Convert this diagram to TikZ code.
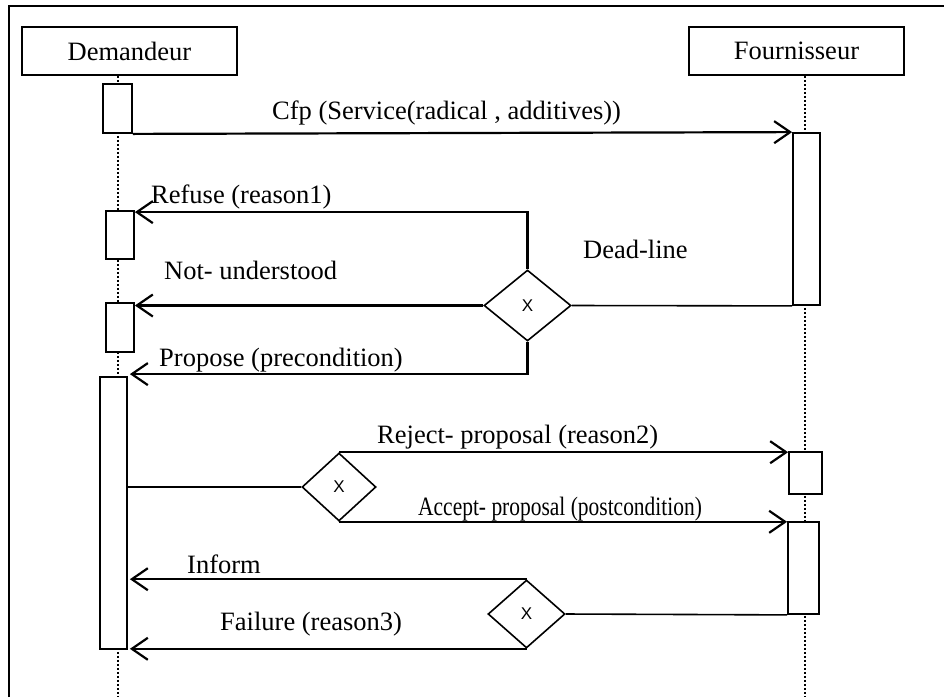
\documentclass[tikz,border=0pt]{standalone}
\usepackage{fontspec}
\setmainfont{Liberation Serif}
\newfontfamily\gatefont{Liberation Sans}
\usetikzlibrary{shapes.geometric,arrows.meta}

\begin{document}
\begin{tikzpicture}[x=1pt,y=-1pt,
  font=\fontsize{26.5}{30}\selectfont,
  actor/.style={draw,line width=1.8pt,fill=white,minimum width=215pt,minimum height=48pt,inner sep=0pt},
  act/.style={draw,line width=1.8pt,fill=white,inner sep=0pt,minimum width=28pt},
  gate/.style={draw,diamond,line width=1.6pt,fill=white,inner sep=0pt,
    font=\gatefont\fontsize{17}{17}\selectfont},
  lifeline/.style={line width=1.6pt,dash pattern=on 2pt off 2pt},
  msg/.style={line width=2.2pt,-{Straight Barb[length=16pt,width=22pt,line width=2.2pt]}},
  link/.style={line width=1.6pt},
  lbl/.style={anchor=base west,inner sep=0pt}]

  \useasboundingbox (0,0) rectangle (944,697);

  % frame (only the top and left edges fall inside the page)
  \draw[line width=2.2pt] (9,697) -- (9,6) -- (944,6);

  % actors and their lifelines
  \node[actor] (dem) at (129.5,51) {Demandeur};
  \node[actor] (fou) at (796.5,51) {Fournisseur};
  \coordinate (demEnd) at (118,697);
  \coordinate (fouEnd) at (805,697);
  \draw[lifeline] (dem.south -| demEnd) -- (demEnd);
  \draw[lifeline] (fou.south -| fouEnd) -- (fouEnd);

  % activation boxes, Demandeur side
  \node[act,minimum width=29pt,minimum height=49pt] (d1) at (117.5,108.5) {};
  \node[act,minimum height=48pt] (d2) at (120,235) {};
  \node[act,minimum height=49pt] (d3) at (120,327.5) {};
  \node[act,minimum width=27pt,minimum height=272pt] (d4) at (113.5,513) {};

  % activation boxes, Fournisseur side
  \node[act,minimum width=27pt,minimum height=172pt] (f1) at (806.5,219) {};
  \node[act,minimum width=33pt,minimum height=42pt] (f2) at (805.5,473) {};
  \node[act,minimum width=31pt,minimum height=92pt] (f3) at (803.5,568) {};

  % decision gates
  \node[gate,minimum width=87pt,minimum height=71pt] (dia1) at (527.5,305.5) {X};
  \node[gate,minimum width=74pt,minimum height=68pt] (dia2) at (339,487) {X};
  \node[gate,minimum width=77pt,minimum height=68pt] (dia3) at (526.5,614) {X};

  % call for proposals
  \draw[msg] (d1.south east) -- (f1.north west);
  \node[lbl] (tcfp) at (272,119) {Cfp (Service(radical , additives))};

  % first answer, through the dead-line gate
  \draw[link] (f1.south west) -- (dia1.east);
  \node[lbl] (tdead) at (583,258) {Dead-line};
  \draw[msg] (dia1.north) |- ([yshift=-2pt]d2.north east);
  \node[lbl] (tref) at (151,203) {Refuse (reason1)};
  \draw[msg] (dia1.west) -- (dia1.west -| d3.east);
  \node[lbl] (tnot) at (164,279) {Not- understood};
  \draw[msg] (dia1.south) |- ([xshift=2pt,yshift=2pt]d4.north east);
  \node[lbl] (tprop) at (159,366) {Propose (precondition)};

  % reply to the proposal
  \draw[link] (dia2.west -| d4.east) -- (dia2.west);
  \draw[msg] (dia2.north) -- (dia2.north -| f2.west);
  \node[lbl] (trej) at (377,443) {Reject- proposal (reason2)};
  \draw[msg] (dia2.south) -- (dia2.south -| f3.west);
  \node[lbl] (tacc) at (418,515) {\scalebox{0.81}[1]{Accept- proposal (postcondition)}};

  % outcome of the service
  \draw[link] (f3.south west) -- (dia3.east);
  \draw[msg] (dia3.north) -- ([xshift=2pt]dia3.north -| d4.east);
  \node[lbl] (tinf) at (187,573) {Inform};
  \draw[msg] (dia3.south) -- ([xshift=2pt]dia3.south -| d4.east);
  \node[lbl] (tfail) at (220,630) {Failure (reason3)};
\end{tikzpicture}
\end{document}
